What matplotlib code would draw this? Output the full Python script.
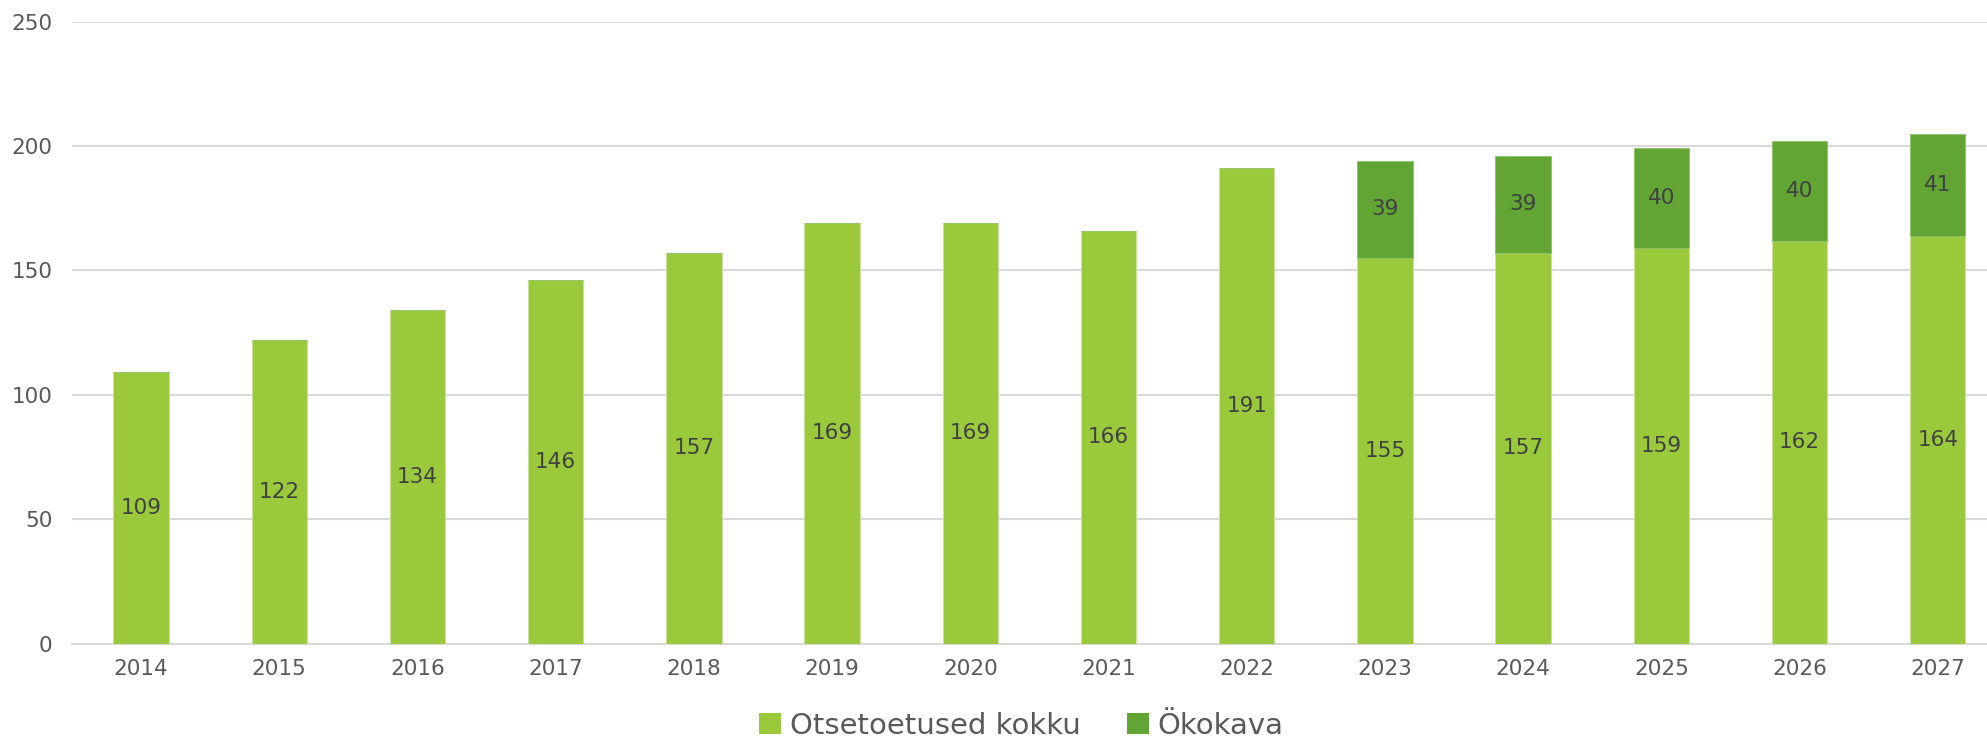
import numpy as np
import matplotlib
matplotlib.use("Agg")
import matplotlib.pyplot as plt
from matplotlib.patches import Patch

years = ["2014", "2015", "2016", "2017", "2018", "2019", "2020",
         "2021", "2022", "2023", "2024", "2025", "2026", "2027"]
otsetoetused = [109, 122, 134, 146, 157, 169, 169, 166, 191, 155, 157, 159, 162, 164]
okokava = [0, 0, 0, 0, 0, 0, 0, 0, 0, 39, 39, 40, 40, 41]
series_names = ["Otsetoetused kokku", "Ökokava"]

light = "#9ACA3C"
dark = "#62A535"
text_col = "#404040"
tick_col = "#595959"
grid_col = "#D9D9D9"

plt.rcParams['font.family'] = ['DejaVu Sans']

fig = plt.figure(figsize=(19.87, 7.42), dpi=100)
ax = fig.add_axes([0.0362, 0.1325, 0.9738, 0.8385])

x = np.arange(len(years))
w = 0.40
b1 = ax.bar(x, otsetoetused, w, color=light, edgecolor="#C8E39A", linewidth=0.6, zorder=3)
b2 = ax.bar(x, okokava, w, bottom=otsetoetused, color=dark, edgecolor="#8CC26A",
            linewidth=0.6, zorder=3)

for i in range(len(years)):
    ax.text(x[i], otsetoetused[i] / 2, str(otsetoetused[i]), ha="center", va="center",
            fontsize=15.5, color=text_col, zorder=4)
    if okokava[i] > 0:
        ax.text(x[i], otsetoetused[i] + okokava[i] / 2, str(okokava[i]), ha="center",
                va="center", fontsize=15.5, color=text_col, zorder=4)

ax.set_xlim(-0.5, len(years) - 0.5)
ax.set_ylim(0, 250)
ax.set_yticks(np.arange(0, 251, 50))
ax.set_xticks(x)
ax.set_xticklabels(years)
ax.tick_params(axis="both", length=0, labelsize=15.5, colors=tick_col)
ax.tick_params(axis="x", pad=11)
ax.tick_params(axis="y", pad=14)
ax.yaxis.grid(True, color=grid_col, linewidth=1.5, zorder=0)
ax.set_axisbelow(True)
for s in ["top", "right", "left"]:
    ax.spines[s].set_visible(False)
ax.spines["bottom"].set_color(grid_col)
ax.spines["bottom"].set_linewidth(1.5)

handles = [Patch(facecolor=light), Patch(facecolor=dark)]
fig.legend(handles, series_names, loc="center", bbox_to_anchor=(0.514, 0.022),
           ncol=2, frameon=False, fontsize=21, handlelength=0.75, handleheight=0.75,
           handletextpad=0.3, columnspacing=1.6, labelcolor=tick_col,
           borderaxespad=0.1, borderpad=0.1)

fig.savefig("out.png", dpi=100)
